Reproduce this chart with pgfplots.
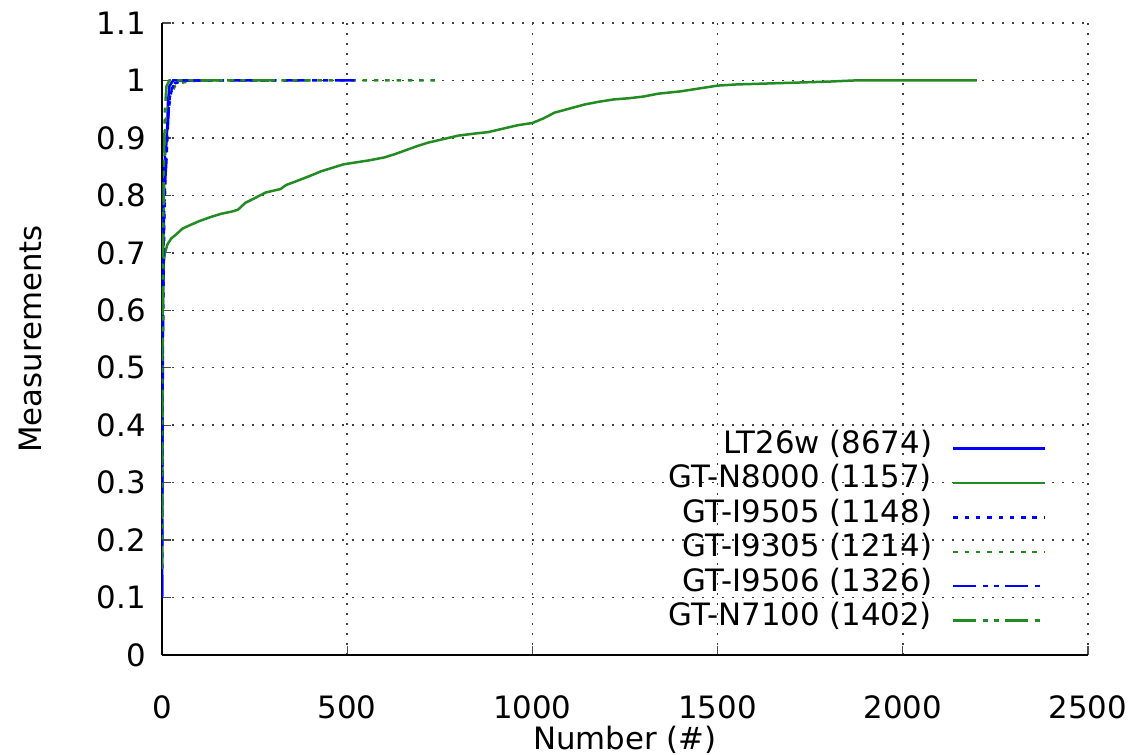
\documentclass[border=0pt]{standalone}
\usepackage{fontspec}
\setmainfont{DejaVu Sans}
\usepackage{pgfplots}
\pgfplotsset{compat=1.18}
\definecolor{gblue}{RGB}{0,0,255}
\definecolor{ggreen}{RGB}{34,139,34}
\newcommand{\myfont}{\fontsize{15.4}{17.2}\selectfont}
\begin{document}
\begin{tikzpicture}
\begin{axis}[
  scale only axis,
  width=463pt, height=316pt,
  xmin=0, xmax=2500, ymin=0, ymax=1.1,
  xtick={0,500,1000,1500,2000,2500},
  ytick={0,0.1,0.2,0.3,0.4,0.5,0.6,0.7,0.8,0.9,1,1.1},
  axis lines*=left,
  axis line style={line width=0.8pt, -},
  tick align=inside,
  major tick length=4.5pt,
  tick style={line width=0.6pt, black!70},
  grid=major,
  major grid style={line width=0.7pt, black!75, dash pattern=on 1pt off 4pt},
  /pgf/number format/assume math mode=true,
  /pgf/number format/set thousands separator={},
  tick label style={font=\myfont},
  label style={font=\myfont},
  xticklabel style={yshift=-17pt},
  yticklabel style={xshift=-4.5pt},
  xlabel={Number (\#)},
  ylabel={Measurements},
  xlabel style={at={(axis description cs:0.5,-0.1335)}, anchor=center},
  ylabel style={at={(axis description cs:-0.1425,0.5)}, anchor=center},
  legend plot pos=right,
  legend cell align=right,
  legend image code/.code={\draw[#1, line width=1.25pt] (0pt,0pt) -- (46pt,0pt);},
  legend style={font=\myfont, draw=none, fill=none,
    at={(axis description cs:0.9557,0.3544)}, anchor=north east,
    inner sep=0pt, row sep=0pt,
    nodes={inner sep=0pt, text height=11pt, text depth=6.2pt},
    /tikz/every odd column/.style={column sep=10pt}},
]
\addplot[gblue, line width=1.25pt, solid] coordinates {
(0,0.1)(1,0.45)(2,0.62)(3,0.75)(5,0.82)(8,0.87)(12,0.89)(15,0.93)(16,0.96)(20,0.99)(30,1.0)(130,1.0)};
\addlegendentry{LT26w (8674)}
\addplot[ggreen, line width=1.25pt, solid] coordinates {
(0,0.2)(1,0.45)(2,0.6)(4,0.68)(8,0.7)(15,0.715)(25,0.725)(40,0.733)(55,0.742)(75,0.748)(100,0.755)(130,0.762)(160,0.768)(190,0.772)(205,0.775)(225,0.787)(250,0.795)(280,0.805)(300,0.808)(320,0.811)(335,0.818)(360,0.824)(400,0.834)(430,0.842)(460,0.848)(490,0.854)(520,0.857)(560,0.861)(600,0.866)(630,0.872)(660,0.879)(690,0.886)(720,0.892)(760,0.898)(800,0.904)(850,0.908)(880,0.910)(920,0.916)(960,0.922)(1000,0.926)(1030,0.934)(1060,0.944)(1100,0.951)(1140,0.958)(1180,0.963)(1220,0.967)(1260,0.969)(1300,0.972)(1340,0.977)(1400,0.981)(1450,0.986)(1500,0.991)(1550,0.993)(1600,0.994)(1700,0.996)(1800,0.998)(1870,1.0)(2200,1.0)};
\addlegendentry{GT-N8000 (1157)}
\addplot[gblue, line width=1.25pt, dash pattern=on 2.25pt off 3.4pt] coordinates {
(0,0.15)(1,0.4)(3,0.6)(6,0.75)(10,0.85)(13,0.9)(18,0.95)(25,0.98)(35,0.995)(60,1)(300,1)};
\addlegendentry{GT-I9505 (1148)}
\addplot[ggreen, line width=1.25pt, dash pattern=on 2.25pt off 3.4pt] coordinates {
(0,0.2)(2,0.55)(4,0.72)(6,0.85)(10,0.93)(20,0.97)(35,0.99)(60,0.997)(100,1)(750,1)};
\addlegendentry{GT-I9305 (1214)}
\addplot[gblue, line width=1.25pt, dash pattern=on 11.3pt off 3.3pt on 2.5pt off 3pt on 2.5pt off 3.4pt] coordinates {
(0,0.1)(1,0.35)(3,0.6)(5,0.75)(8,0.82)(12,0.86)(18,0.95)(22,0.98)(30,0.99)(50,1)(520,1)};
\addlegendentry{GT-I9506 (1326)}
\addplot[ggreen, line width=1.25pt, dash pattern=on 11.3pt off 3.3pt on 2.5pt off 3pt on 2.5pt off 3.4pt] coordinates {
(0,0.15)(1,0.5)(3,0.7)(5,0.85)(8,0.95)(12,0.99)(20,1)(400,1)};
\addlegendentry{GT-N7100 (1402)}
\end{axis}
\pgfresetboundingbox
\path[use as bounding box] ([shift={(-81pt,-50pt)}]current axis.south west) rectangle ([shift={(26.5pt,11.5pt)}]current axis.north east);
\end{tikzpicture}
\end{document}
